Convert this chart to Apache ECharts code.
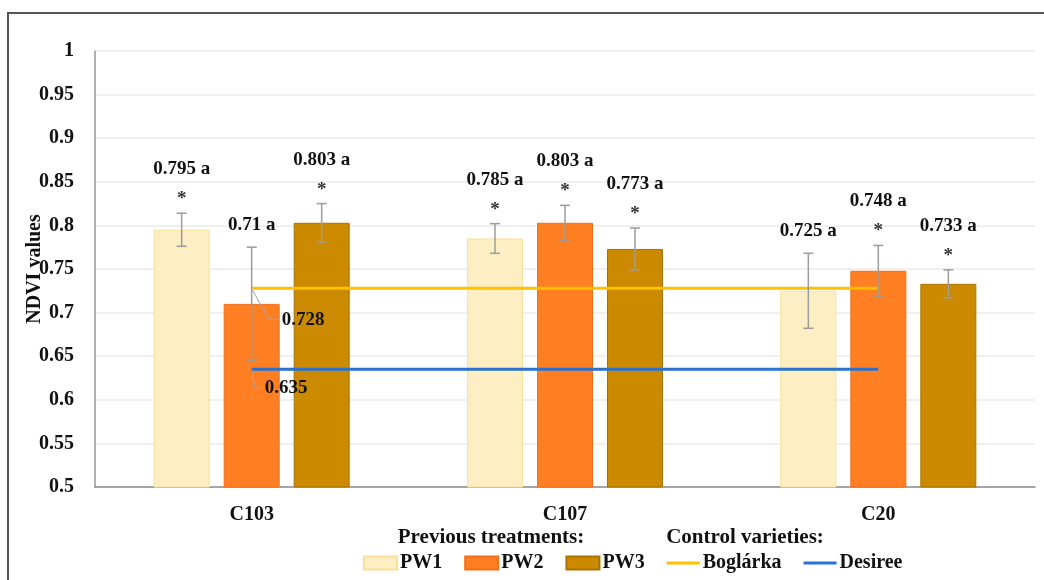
<!DOCTYPE html>
<html>
<head>
<meta charset="utf-8">
<script src="https://cdn.jsdelivr.net/npm/echarts@6/dist/echarts.min.js"></script>
<style>
html,body{margin:0;padding:0;background:#fff;}
#chart{width:1044px;height:580px;}
</style>
</head>
<body>
<div id="chart"></div>
<script>
// ---- data ----
const categories = ['C103', 'C107', 'C20'];
const treatmentNames = ['PW1', 'PW2', 'PW3'];
const pw1 = [0.795, 0.785, 0.725];
const pw2 = [0.71, 0.803, 0.748];
const pw3 = [0.803, 0.773, 0.733];
const pw1Err = [0.019, 0.017, 0.043];
const pw2Err = [0.065, 0.020, 0.029];
const pw3Err = [0.022, 0.024, 0.016];
const pw1Star = [1, 1, 0];
const pw2Star = [0, 1, 1];
const pw3Star = [1, 1, 1];
const pw1Letter = ['a', 'a', 'a'];
const pw2Letter = ['a', 'a', 'a'];
const pw3Letter = ['a', 'a', 'a'];
const controlNames = ['Boglárka', 'Desiree'];
const boglarka = [0.728, 0.728, 0.728];
const desiree = [0.635, 0.635, 0.635];
const yMin = 0.5, yMax = 1, yStep = 0.05;

// ---- styles ----
const FONT = '"Liberation Serif", "Times New Roman", serif';
const BAR_W = 56, BAR_GAP = 14;
const barColors = ['#FDEEC4', '#FF7F22', '#CC8A00'];
const barBorders = ['#FBE09A', '#F26E1A', '#A87300'];
const lineColors = ['#FFC000', '#2A72D0'];

const vals = [pw1, pw2, pw3];
const errs = [pw1Err, pw2Err, pw3Err];
const stars = [pw1Star, pw2Star, pw3Star];
const letters = [pw1Letter, pw2Letter, pw3Letter];

const errData = [];
for (let s = 0; s < 3; s++) {
  for (let c = 0; c < categories.length; c++) {
    errData.push([c, s, vals[s][c], errs[s][c], stars[s][c], vals[s][c] + ' ' + letters[s][c]]);
  }
}
const ctrlData = [[0, boglarka[0], 0], [0, desiree[0], 1]];

const chart = echarts.init(document.getElementById('chart'));

const barSeries = treatmentNames.map((n, i) => ({
  name: n,
  type: 'bar',
  data: vals[i],
  barWidth: BAR_W,
  barGap: (BAR_GAP / BAR_W * 100) + '%',
  itemStyle: { color: barColors[i], borderColor: barBorders[i], borderWidth: 1 },
  z: 2
}));

const lineSeries = controlNames.map((n, i) => ({
  name: n,
  type: 'line',
  data: i === 0 ? boglarka : desiree,
  symbol: 'none',
  lineStyle: { color: lineColors[i], width: 3 },
  itemStyle: { color: lineColors[i] },
  z: 4
}));

const errSeries = {
  type: 'custom',
  z: 5,
  clip: false,
  encode: { x: 0, y: 2 },
  data: errData,
  renderItem: function (params, api) {
    const c = api.value(0), s = api.value(1), v = api.value(2), e = api.value(3), st = api.value(4);
    const txt = errData[params.dataIndex][5];
    const off = (s - 1) * (BAR_W + BAR_GAP);
    const top = api.coord([c, v + e]);
    const bot = api.coord([c, v - e]);
    const x = top[0] + off;
    const cap = 5;
    const ls = { stroke: '#9C9C9C', lineWidth: 1.5 };
    const children = [
      { type: 'line', shape: { x1: x, y1: top[1], x2: x, y2: bot[1] }, style: ls },
      { type: 'line', shape: { x1: x - cap, y1: top[1], x2: x + cap, y2: top[1] }, style: ls },
      { type: 'line', shape: { x1: x - cap, y1: bot[1], x2: x + cap, y2: bot[1] }, style: ls }
    ];
    if (st) {
      children.push({ type: 'text', x: x, y: top[1] - 14, style: { text: '*', font: 'bold 19px ' + FONT, fill: '#333', align: 'center', verticalAlign: 'middle' } });
    }
    children.push({ type: 'text', x: x, y: top[1] - (st ? 44 : 22), style: { text: txt, font: 'bold 19px ' + FONT, fill: '#111', align: 'center', verticalAlign: 'middle' } });
    return { type: 'group', children: children };
  }
};

const leaderStyle = [
  { dx: 16, dy: 29, tx: 30 },
  { dx: 2, dy: 16, tx: 13 }
];
const ctrlLabelSeries = {
  type: 'custom',
  z: 6,
  clip: false,
  encode: { x: 0, y: 1 },
  data: ctrlData,
  renderItem: function (params, api) {
    const k = api.value(2);
    const p = api.coord([api.value(0), api.value(1)]);
    const L = leaderStyle[k];
    const x0 = p[0] + 1, y0 = p[1] + 2;
    return {
      type: 'group',
      children: [
        { type: 'polyline', shape: { points: [[x0, y0], [x0 + L.dx, y0 + L.dy], [p[0] + L.tx - 3, y0 + L.dy]] }, style: { stroke: '#A6A6A6', lineWidth: 1, fill: null } },
        { type: 'text', x: p[0] + L.tx, y: y0 + L.dy + 1, style: { text: api.value(1).toFixed(3), font: 'bold 19px ' + FONT, fill: '#111', align: 'left', verticalAlign: 'middle' } }
      ]
    };
  }
};

const lineIcon = 'path://M0,0H33V3H0Z';
const legendData = treatmentNames.map(n => ({ name: n, icon: 'rect' }))
  .concat(controlNames.map(n => ({ name: n, icon: lineIcon })));

chart.setOption({
  animation: false,
  backgroundColor: '#fff',
  grid: { left: 95, right: 9, top: 51, bottom: 93, containLabel: false },
  xAxis: {
    type: 'category',
    data: categories,
    axisLine: { lineStyle: { color: '#8C8C8C', width: 1.5 } },
    axisTick: { show: false },
    axisLabel: { fontFamily: FONT, fontWeight: 'bold', fontSize: 20, color: '#111', margin: 18 }
  },
  yAxis: {
    type: 'value',
    min: yMin, max: yMax, interval: yStep,
    name: 'NDVI values',
    nameLocation: 'middle',
    nameRotate: 90,
    nameGap: 50,
    nameMoveOverlap: false,
    nameTextStyle: { fontFamily: FONT, fontWeight: 'bold', fontSize: 20, color: '#111' },
    axisLine: { show: true, lineStyle: { color: '#999', width: 1.5 } },
    axisTick: { show: false },
    axisLabel: { fontFamily: FONT, fontWeight: 'bold', fontSize: 20, color: '#111', margin: 21 },
    splitLine: { lineStyle: { color: '#EBEBEB', width: 1.5 } }
  },
  legend: {
    data: legendData,
    left: 358,
    top: 548,
    itemWidth: 33,
    itemHeight: 13,
    itemGap: 22,
    symbolKeepAspect: true,
    textStyle: { fontFamily: FONT, fontWeight: 'bold', fontSize: 20, color: '#111', padding: [0, 0, 0, -2] }
  },
  graphic: [
    { type: 'rect', shape: { x: 8, y: 13, width: 1100, height: 700 }, style: { fill: null, stroke: '#555', lineWidth: 2 }, silent: true },
    { type: 'text', x: 491, y: 538, style: { text: 'Previous treatments:', font: 'bold 21px ' + FONT, fill: '#111', align: 'center', verticalAlign: 'middle' } },
    { type: 'text', x: 745, y: 538, style: { text: 'Control varieties:', font: 'bold 21px ' + FONT, fill: '#111', align: 'center', verticalAlign: 'middle' } }
  ],
  series: barSeries.concat(lineSeries, [errSeries, ctrlLabelSeries])
});
</script>
</body>
</html>
